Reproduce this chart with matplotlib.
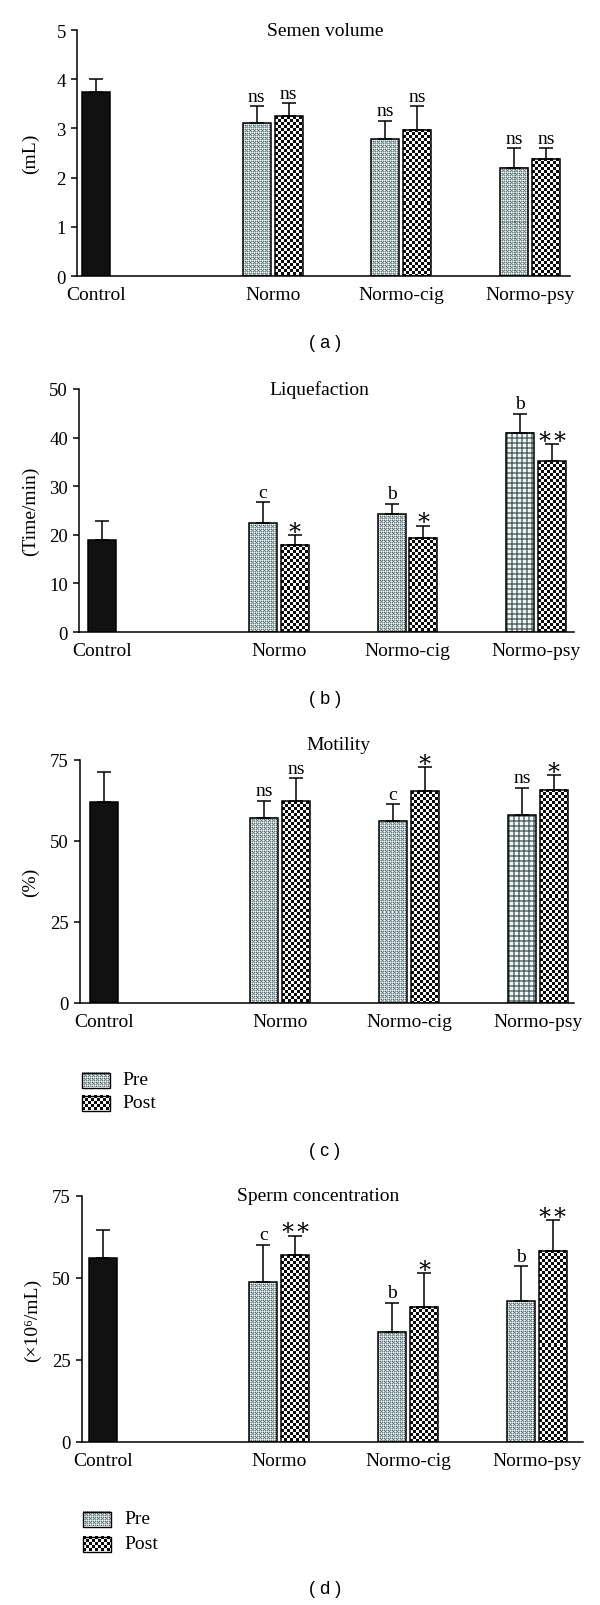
import numpy as np
import matplotlib
matplotlib.use('Agg')
import matplotlib.pyplot as plt
from matplotlib.patches import Rectangle

plt.rcParams['font.family'] = ['Liberation Serif', 'DejaVu Serif']

groups = ['Normo', 'Normo-cig', 'Normo-psy']
xlabels = ['Control'] + groups

# semen volume (mL)
vol_ctrl, vol_ctrl_sd = 3.74, 0.27
vol_pre = [3.10, 2.78, 2.20]
vol_pre_sd = [0.35, 0.37, 0.40]
vol_post = [3.25, 2.97, 2.38]
vol_post_sd = [0.26, 0.48, 0.22]
vol_pre_sig = ['ns', 'ns', 'ns']
vol_post_sig = ['ns', 'ns', 'ns']

# liquefaction (min)
liq_ctrl, liq_ctrl_sd = 19.0, 3.75
liq_pre = [22.4, 24.2, 40.95]
liq_pre_sd = [4.3, 2.15, 4.0]
liq_post = [18.0, 19.35, 35.1]
liq_post_sd = [1.9, 2.55, 3.6]
liq_pre_sig = ['c', 'b', 'b']
liq_post_sig = ['\u2217', '\u2217', '\u2217\u2217']

# motility (%)
mot_ctrl, mot_ctrl_sd = 61.9, 9.3
mot_pre = [57.2, 56.2, 57.9]
mot_pre_sd = [5.15, 5.2, 8.6]
mot_post = [62.25, 65.3, 65.8]
mot_post_sd = [7.15, 7.45, 4.6]
mot_pre_sig = ['ns', 'c', 'ns']
mot_post_sig = ['ns', '\u2217', '\u2217']

# sperm concentration (x10^6/mL)
con_ctrl, con_ctrl_sd = 56.05, 8.65
con_pre = [48.75, 33.65, 42.97]
con_pre_sd = [11.45, 8.75, 10.6]
con_post = [56.96, 41.25, 58.3]
con_post_sd = [5.95, 10.25, 9.4]
con_pre_sig = ['c', 'b', 'b']
con_post_sig = ['\u2217\u2217', '\u2217', '\u2217\u2217']

W, H = 600, 1606
BAR_PX = 28.0
group_x = np.array([6.3, 10.9, 15.5])
half = 0.57

# pattern tiles
Wc = [250, 252, 252]
L = [175, 190, 190]
G = [115, 138, 138]
D = [85, 105, 105]
pre_tile = np.array([[G, L, G, L],
                     [L, Wc, L, Wc],
                     [G, L, D, L],
                     [L, Wc, L, G]], dtype=np.uint8)
k, w = [10, 10, 10], [250, 250, 250]
post_tile = np.array([[k, k, k, w, w, w]] * 3 + [[w, w, w, k, k, k]] * 3, dtype=np.uint8)
gs, gx, gw = [125, 142, 142], [80, 95, 95], [242, 246, 246]
ging_tile = np.array([[gx, gx, gs, gs, gs]] * 2 + [[gs, gs, gw, gw, gw]] * 3, dtype=np.uint8)


def tile_img(tile, nh, nw):
    th, tw = tile.shape[:2]
    return np.tile(tile, (nh // th + 2, nw // tw + 2, 1))[:nh, :nw]


def fill_bar(ax, bar, tile):
    x0, y0 = bar.get_x(), bar.get_y()
    x1, y1 = x0 + bar.get_width(), y0 + bar.get_height()
    (px0, py0), (px1, py1) = ax.transData.transform([(x0, y0), (x1, y1)])
    img = tile_img(tile, max(int(round(py1 - py0)), 1), max(int(round(px1 - px0)), 1))
    ax.imshow(img, extent=(x0, x1, y0, y1), aspect='auto',
              interpolation='nearest', zorder=2)


panels = [
    dict(box=(77, 570, 31, 277), ctrl_px=96.2, ylim=5, ticks=np.arange(0, 6, 1),
         ctrl=vol_ctrl, ctrl_sd=vol_ctrl_sd, pre=vol_pre, pre_sd=vol_pre_sd,
         post=vol_post, post_sd=vol_post_sd, pre_sig=vol_pre_sig, post_sig=vol_post_sig,
         title='Semen volume', tpos=(325, 31), ylabel='(mL)', ylx=30, gingham=False,
         tag='( a )', tagy=343),
    dict(box=(79, 574, 390, 633), ctrl_px=102.3, ylim=50, ticks=np.arange(0, 51, 10),
         ctrl=liq_ctrl, ctrl_sd=liq_ctrl_sd, pre=liq_pre, pre_sd=liq_pre_sd,
         post=liq_post, post_sd=liq_post_sd, pre_sig=liq_pre_sig, post_sig=liq_post_sig,
         title='Liquefaction', tpos=(319, 390), ylabel='(Time/min)', ylx=30, gingham=True,
         tag='( b )', tagy=700),
    dict(box=(80, 574, 761, 1004), ctrl_px=103.8, ylim=75, ticks=[0, 25, 50, 75],
         ctrl=mot_ctrl, ctrl_sd=mot_ctrl_sd, pre=mot_pre, pre_sd=mot_pre_sd,
         post=mot_post, post_sd=mot_post_sd, pre_sig=mot_pre_sig, post_sig=mot_post_sig,
         title='Motility', tpos=(338, 746), ylabel='(%)', ylx=30, gingham=True,
         tag='( c )', tagy=1152, legend=(82, 122, 1081, 1104)),
    dict(box=(82, 583, 1197, 1443), ctrl_px=103.0, ylim=75, ticks=[0, 25, 50, 75],
         ctrl=con_ctrl, ctrl_sd=con_ctrl_sd, pre=con_pre, pre_sd=con_pre_sd,
         post=con_post, post_sd=con_post_sd, pre_sig=con_pre_sig, post_sig=con_post_sig,
         title='Sperm concentration', tpos=(318, 1197), ylabel='(\u00d710\u2076/mL)', ylx=32,
         gingham=False, tag='( d )', tagy=1590, legend=(83, 124, 1520, 1545)),
]

fig = plt.figure(figsize=(W / 100, H / 100), dpi=100)
ov = fig.add_axes([0, 0, 1, 1])
ov.set_zorder(-1)
ov.axis('off')

for p in panels:
    l, r, t, b = p['box']
    ax = fig.add_axes([l / W, (H - b) / H, (r - l) / W, (b - t) / H])
    xlim = ((l - p['ctrl_px']) / BAR_PX, (r - p['ctrl_px']) / BAR_PX)
    ax.set_xlim(*xlim)
    ax.set_ylim(0, p['ylim'])

    ax.bar([0], [p['ctrl']], width=1, color='#111111', edgecolor='k', lw=1.1, zorder=3)
    pre_bars = ax.bar(group_x - half, p['pre'], width=1, facecolor='none',
                      edgecolor='k', lw=1.1, zorder=3)
    post_bars = ax.bar(group_x + half, p['post'], width=1, facecolor='none',
                       edgecolor='k', lw=1.1, zorder=3)
    for i, bar in enumerate(pre_bars):
        tile = ging_tile if (p['gingham'] and i == 2) else pre_tile
        fill_bar(ax, bar, tile)
    for bar in post_bars:
        fill_bar(ax, bar, post_tile)

    xs = np.concatenate([[0], group_x - half, group_x + half])
    ys = np.concatenate([[p['ctrl']], p['pre'], p['post']])
    sd = np.concatenate([[p['ctrl_sd']], p['pre_sd'], p['post_sd']])
    ax.errorbar(xs, ys, yerr=[np.zeros_like(sd), sd], fmt='none', ecolor='k',
                elinewidth=1.1, capsize=5, capthick=1.1, zorder=4)

    sigs = list(p['pre_sig']) + list(p['post_sig'])
    for x, y, s, txt in zip(xs[1:], ys[1:], sd[1:], sigs):
        star = '\u2217' in txt
        ax.annotate(txt, (x, y + s), xytext=(0, 1.5 if star else 4),
                    textcoords='offset points', ha='center', va='baseline',
                    fontsize=17 if star else 14)

    ax.set_xlim(*xlim)
    ax.set_ylim(0, p['ylim'])
    ax.set_yticks(p['ticks'])
    ax.set_xticks(np.concatenate([[0], group_x]))
    ax.set_xticklabels(xlabels, fontsize=14)
    ax.tick_params(axis='x', length=0, pad=7)
    ax.tick_params(axis='y', direction='out', length=4, width=1.1, pad=4, labelsize=13.5)
    for s in ['top', 'right']:
        ax.spines[s].set_visible(False)
    for s in ['left', 'bottom']:
        ax.spines[s].set_linewidth(1.1)
    ax.set_facecolor('none')

    fig.text(p['tpos'][0] / W, 1 - p['tpos'][1] / H, p['title'], fontsize=14,
             ha='center', va='center')
    fig.text(p['ylx'] / W, 1 - (t + b) / 2 / H, p['ylabel'], fontsize=14,
             rotation=90, ha='center', va='center')
    fig.text(325 / W, 1 - p['tagy'] / H, p['tag'], fontsize=13,
             family='Liberation Sans', ha='center', va='center')

    if 'legend' in p:
        bx, tx, y1, y2 = p['legend']
        for yc, tile, name in [(y1, pre_tile, 'Pre'), (y2, post_tile, 'Post')]:
            bw, bh = 28, 15
            img = tile_img(tile, bh, bw)
            ov.imshow(img, extent=(bx, bx + bw, yc + bh / 2, yc - bh / 2),
                      aspect='auto', interpolation='nearest')
            ov.add_patch(Rectangle((bx, yc - bh / 2), bw, bh, fill=False,
                                   edgecolor='k', lw=1))
            ov.text(tx, yc, name, fontsize=14, ha='left', va='center')

ov.set_xlim(0, W)
ov.set_ylim(H, 0)

fig.savefig('out.png', dpi=100)
